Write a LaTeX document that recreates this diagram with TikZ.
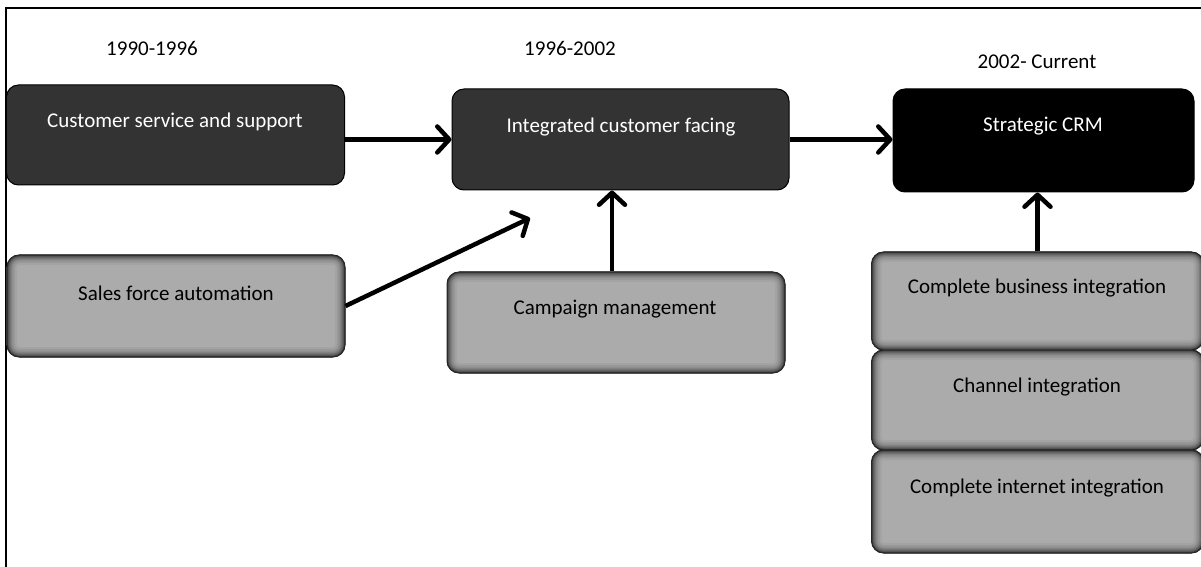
\documentclass[tikz,border=0pt]{standalone}
\usepackage{fontspec}
\setmainfont{Carlito}
\usetikzlibrary{arrows.meta}
\begin{document}
\begin{tikzpicture}[x=1bp,y=-1bp]
\tikzset{
  box/.style={rounded corners=12bp, inner sep=0pt},
  darkbox/.style={box, fill=black!80, draw=black, line width=1bp},
  blackbox/.style={box, fill=black, draw=black, line width=1bp},
  lightbox/.style={box, fill=black!33, draw=black!85, line width=1bp,
    path picture={
      \foreach \w/\c in {20/36,16/40,13/44,10/49,8/54,6/60,4/67,2/78}{
        \draw[black!\c, line width=\w bp, rounded corners=12bp]
          (path picture bounding box.south west) rectangle (path picture bounding box.north east);
      }
    }},
  label/.style={font=\fontsize{21bp}{25bp}\selectfont, inner sep=0pt},
  lighttext/.style={label, text=white},
  flow/.style={line width=4.5bp, -{Straight Barb[length=12bp,width=26bp,round]}}
}
\useasboundingbox (0,0) rectangle (1201,567);

% frame edges
\draw[line width=2bp] (6,567) -- (6,8) -- (1201,8);

% period headings
\node[label] (y1) at (152,48) {1990-1996};
\node[label] (y2) at (570,48) {1996-2002};
\node[label] (y3) at (1037,62) {2002- Current};

% main stages
\node[darkbox, minimum width=338bp, minimum height=100bp] (b1) at (175.5,135) {};
\node[darkbox, minimum width=337bp, minimum height=101bp] (b2) at (620.5,139.5) {};
\node[blackbox, minimum width=301bp, minimum height=103bp] (b3) at (1043.5,140.5) {};
\node[lighttext] (t1) at (175,122) {Customer service and support};
\node[lighttext] (t2) at (621,127) {Integrated customer facing};
\node[lighttext] (t3) at (1043,126) {Strategic CRM};

% contributing components
\node[lightbox, minimum width=338bp, minimum height=102bp] (b4) at (176,306) {};
\node[lightbox, minimum width=338bp, minimum height=101bp] (b5) at (616,322.5) {};
\node[lightbox, minimum width=332bp, minimum height=98bp] (b6) at (1037.5,301) {};
\node[lightbox, minimum width=332bp, minimum height=100bp] (b7) at (1037.5,400) {};
\node[lightbox, minimum width=332bp, minimum height=103bp] (b8) at (1037.5,501.5) {};
\node[label] (t4) at (176,293) {Sales force automation};
\node[label] (t5) at (615,309) {Campaign management};
\node[label] (t6) at (1037,288) {Complete business integration};
\node[label] (t7) at (1037,387) {Channel integration};
\node[label] (t8) at (1037,488) {Complete internet integration};

% connectors
\coordinate (sfa) at (530,218);
\draw[flow] (b1.east |- b2.west) -- (b2.west);
\draw[flow] (b2.east) -- (b2.east -| b3.west);
\draw[flow] (b4.east) -- (sfa);
\draw[flow] ([xshift=-4bp]b5.north) -- ([xshift=-4bp]b5.north |- b2.south);
\draw[flow] (b6.north) -- (b6.north |- b3.south);
\end{tikzpicture}
\end{document}
